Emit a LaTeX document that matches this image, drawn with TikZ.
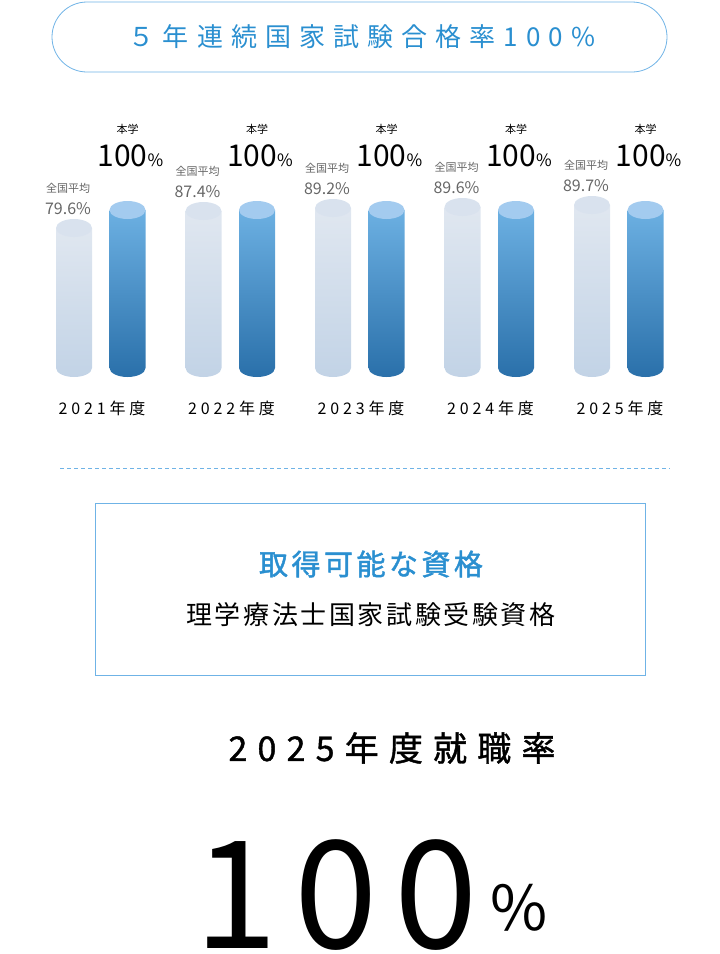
\documentclass[tikz,border=0pt]{standalone}
\usepackage{fontspec}
\setmainfont{Noto Sans CJK JP}
\newfontfamily\qa{Noto Sans CJK JP}[LetterSpace=12,FakeBold=1.5]
\newfontfamily\qb{Noto Sans CJK JP}[LetterSpace=10]
\newfontfamily\spt{Noto Sans CJK JP}[LetterSpace=31]
\newfontfamily\spa{Noto Sans CJK JP}[LetterSpace=24]
\newfontfamily\spb{Noto Sans CJK JP}[LetterSpace=30,FakeBold=1.2]
\newfontfamily\spw{Noto Sans CJK JP}[LetterSpace=11]
\definecolor{tblue}{HTML}{2A8FD0}
\definecolor{lblue}{HTML}{6FB3E6}
\definecolor{gtxt}{HTML}{666666}
\definecolor{gray1}{HTML}{E0E7F0}
\definecolor{gray2}{HTML}{C2D3E6}
\definecolor{blue1}{HTML}{6CB0E2}
\definecolor{blue2}{HTML}{2A70AA}
\definecolor{gtop}{HTML}{D9E2EE}
\definecolor{btop}{HTML}{A3CBEF}
\newcommand{\cyl}[6]{% x, ytop, ybottom, topcolor, botcolor, capcolor
 \shade[top color=#4, bottom color=#5] (#1-18,#2) -- (#1-18,#3) arc[start angle=180,end angle=0,x radius=18,y radius=9] -- (#1+18,#2) -- cycle;
 \fill[#6] (#1,#2) ellipse[x radius=18,y radius=9];}
\begin{document}
\begin{tikzpicture}[x=1pt,y=-1pt]
\useasboundingbox (0,0) rectangle (720,954);
\node[draw=lblue, line width=0.8pt, rounded corners=35, minimum width=615, minimum height=70, inner sep=0] (title) at (359.5,37) {};
\node[text=tblue, font=\spt\fontsize{26}{30}\selectfont] (tt) at (362,37) {５年連続国家試験合格率100\%};
\foreach \i/\yr/\gt/\gp in {0/2021/228/79.6, 1/2022/211/87.4, 2/2023/208/89.2, 3/2024/207/89.6, 4/2025/205/89.7}{
 \pgfmathsetmacro{\gx}{74+129.5*\i}
 \pgfmathsetmacro{\bx}{127.5+129.5*\i}
 \cyl{\gx}{\gt}{368}{gray1}{gray2}{gtop}
 \cyl{\bx}{210}{368}{blue1}{blue2}{btop}
 \node[text=gtxt, font=\fontsize{11}{12}\selectfont, anchor=south] (ga\i) at (\gx-6,\gt-31) {全国平均};
 \node[text=gtxt, font=\fontsize{16}{18}\selectfont, anchor=south] (gp\i) at (\gx-6,\gt-10) {\gp\%};
 \node[font=\fontsize{11}{12}\selectfont] (hb\i) at (\bx,129) {本学};
 \node[font=\fontsize{30}{32}\selectfont, anchor=base] (hp\i) at (\bx+3,166) {100{\fontsize{17}{18}\selectfont\%}};
 \node[font=\spa\fontsize{16}{18}\selectfont] (yr\i) at (\gx+28,408) {\yr 年度};
}
\draw[lblue, line width=0.8pt, dash pattern=on 4pt off 3pt] (60,468) -- (670,468);
\node[draw=lblue, line width=0.8pt, minimum width=550, minimum height=172, inner sep=0] (box) at (370,589) {};
\node[text=tblue, font=\qa\fontsize{29}{32}\selectfont] (q1) at (371,564) {取得可能な資格};
\node[font=\qb\fontsize{26}{30}\selectfont] (q2) at (371,615) {理学療法士国家試験受験資格};
\node[font=\spb\fontsize{34}{38}\selectfont] (emp) at (392,748) {2025年度就職率};
\node[font=\spw\fontsize{150}{150}\selectfont, anchor=base] (big) at (336,948) {100};
\node[font=\fontsize{62}{62}\selectfont, anchor=base west] (pc) at (487,930) {\%};
\end{tikzpicture}
\end{document}
